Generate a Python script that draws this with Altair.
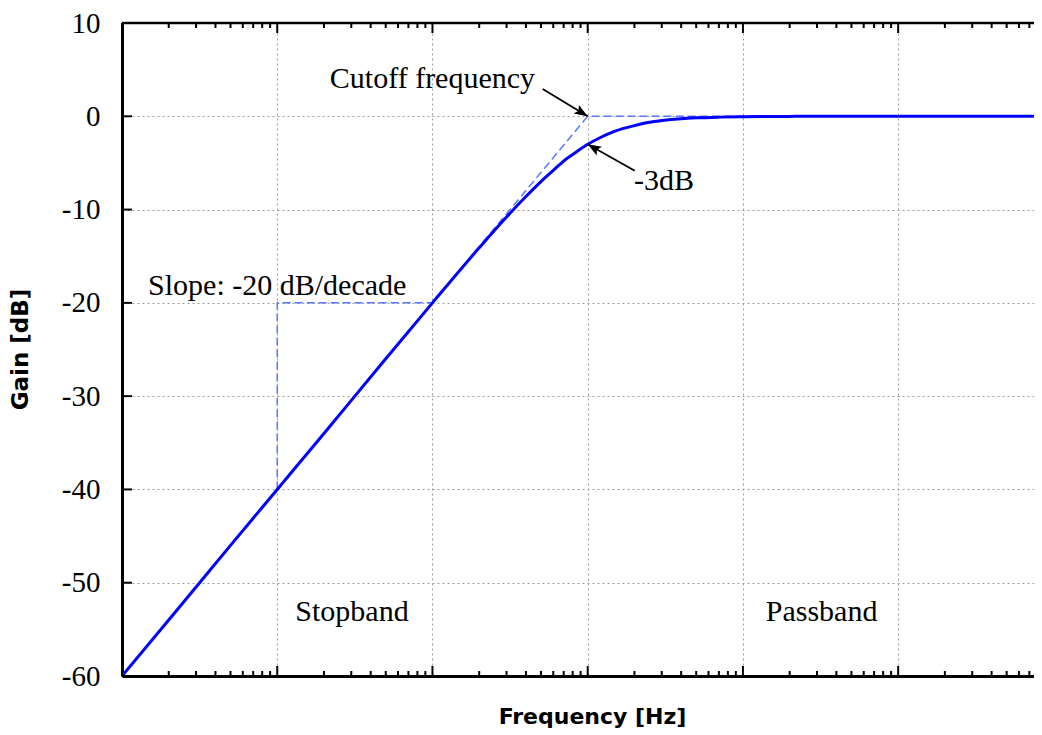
import altair as alt
import pandas as pd

# ---- values ----
freq = [0.001, 0.002, 0.005, 0.01, 0.02, 0.05, 0.1, 0.2, 0.3, 0.4, 0.5, 0.6, 0.7, 0.8,
        1.0, 1.2, 1.5, 2.0, 2.5, 3.0, 4.0, 5.0, 7.0, 10.0, 20.0, 50.0, 100.0, 1000.0]
gain = [-60, -54, -46, -40, -34, -26, -20, -14.1, -10.8, -8.6, -7.0, -5.8, -4.8, -4.1,
        -3.0, -2.3, -1.6, -1.0, -0.64, -0.46, -0.26, -0.17, -0.09, -0.04, -0.01, 0, 0, 0]

asym_f = [0.001, 1.0, 1000.0]
asym_g = [-60, 0, 0]

slope_f = [0.01, 0.01, 0.1]
slope_g = [-40, -20, -20]

label_text = ["Cutoff frequency", "-3dB", "Slope: -20 dB/decade", "Stopband", "Passband"]
label_f = [0.1, 3.1, 0.01, 0.0303, 32.1]
label_g = [3.07, -7.88, -19.2, -54.08, -54.08]

arrow_tail_f = [0.513, 2.01]
arrow_tail_g = [2.93, -5.84]
arrow_head_f = [1.0, 1.0]
arrow_head_g = [0.0, -3.0]
arrow_angle = [121.5, 300.6]

major_x = [0.001, 0.01, 0.1, 1, 10, 100]
minor_mult = [2, 3, 4, 5, 6, 7, 8, 9]
y_ticks = [10, 0, -10, -20, -30, -40, -50, -60]

# ---- layout ----
W, H = 912, 653
XMAX = 750
SERIF = "Liberation Serif"
SANS = "DejaVu Sans"

minor_x = [m * d for d in major_x for m in minor_mult if m * d < XMAX]

xs = alt.Scale(type="log", domain=[0.001, XMAX])
ys = alt.Scale(domain=[-60, 10])

x_axis = alt.Axis(values=major_x, labels=False, ticks=False, grid=True,
                  gridColor="#9a9a9a", gridDash=[2, 3], gridWidth=1,
                  domain=True, domainColor="black", domainWidth=3,
                  title="Frequency [Hz]", titleFont=SANS, titleFontSize=22,
                  titleFontWeight="bold", titleColor="black",
                  titleX=470, titleY=40, titleAlign="center", titleBaseline="middle")
y_axis = alt.Axis(values=y_ticks, ticks=False, labelPadding=22, labelFont=SERIF,
                  labelFontSize=29, labelColor="black", labelBaseline="middle",
                  labelExpr="'' + datum.value",
                  labelFlush=False, labelOverlap=False, grid=True,
                  gridColor="#9a9a9a", gridDash=[2, 3], gridWidth=1,
                  domain=True, domainColor="black", domainWidth=3,
                  title="Gain [dB]", titleFont=SANS, titleFontSize=23,
                  titleFontWeight="bold", titleColor="black", titleAngle=270,
                  titleX=-102, titleY=326, titleAlign="center", titleBaseline="middle")


def X(field="f"):
    return alt.X(f"{field}:Q", scale=xs, axis=x_axis)


def Y(field="g"):
    return alt.Y(f"{field}:Q", scale=ys, axis=y_axis)


curve_df = pd.DataFrame({"f": freq, "g": gain})
asym_df = pd.DataFrame({"f": asym_f, "g": asym_g})
slope_df = pd.DataFrame({"f": slope_f, "g": slope_g, "i": list(range(len(slope_f)))})
label_df = pd.DataFrame({"f": label_f, "g": label_g, "t": label_text})
arrow_df = pd.DataFrame({"f": arrow_tail_f, "g": arrow_tail_g,
                         "f2": arrow_head_f, "g2": arrow_head_g})
head_df = pd.DataFrame({"f": arrow_head_f, "g": arrow_head_g, "a": arrow_angle})
majx_df = pd.DataFrame({"f": major_x})
minx_df = pd.DataFrame({"f": minor_x})
yt_df = pd.DataFrame({"g": y_ticks})
top_df = pd.DataFrame({"g": [10]})

DASH_BLUE = "#5a78ff"

asym = alt.Chart(asym_df).mark_line(color=DASH_BLUE, strokeWidth=1.5,
                                    strokeDash=[8, 4], clip=True).encode(x=X(), y=Y())
slope = alt.Chart(slope_df).mark_line(color=DASH_BLUE, strokeWidth=1.5,
                                      strokeDash=[8, 4], clip=True).encode(
    x=X(), y=Y(), order="i:Q")
curve = alt.Chart(curve_df).mark_line(color="#0000ff", strokeWidth=3,
                                      interpolate="monotone", clip=True).encode(x=X(), y=Y())
labels = alt.Chart(label_df).mark_text(font=SERIF, fontSize=30, color="black",
                                       align="center", baseline="alphabetic").encode(
    x=X(), y=Y(), text="t:N")
arrows = alt.Chart(arrow_df).mark_rule(color="black", strokeWidth=1.8).encode(
    x=X(), y=Y(), x2="f2:Q", y2="g2:Q")
heads = alt.Chart(head_df).mark_point(
    shape="M0,0L-0.38,1L0,0.8L0.38,1Z", filled=True, color="black",
    size=720, opacity=1).encode(x=X(), y=Y(), angle=alt.Angle("a:Q", scale=None))

tick_bot_major = alt.Chart(majx_df).mark_rule(color="black", strokeWidth=2).encode(
    x=X(), y=alt.value(H), y2=alt.value(H - 10))
tick_bot_minor = alt.Chart(minx_df).mark_rule(color="black", strokeWidth=2).encode(
    x=X(), y=alt.value(H), y2=alt.value(H - 5))
tick_top_major = alt.Chart(majx_df).mark_rule(color="black", strokeWidth=2).encode(
    x=X(), y=alt.value(0), y2=alt.value(10))
tick_top_minor = alt.Chart(minx_df).mark_rule(color="black", strokeWidth=2).encode(
    x=X(), y=alt.value(0), y2=alt.value(5))
tick_y = alt.Chart(yt_df).mark_rule(color="black", strokeWidth=2).encode(
    y=Y(), x=alt.value(0), x2=alt.value(10))
top_border = alt.Chart(top_df).mark_rule(color="black", strokeWidth=2.5).encode(y=Y())

chart = alt.layer(
    asym, slope, curve, labels, arrows, heads,
    tick_bot_major, tick_bot_minor, tick_top_major, tick_top_minor, tick_y, top_border
).properties(
    width=W, height=H,
    padding={"left": 114, "top": 15, "right": 0, "bottom": 58},
    autosize=alt.AutoSizeParams(type="none"),
    background="white",
).configure_view(stroke=None)

chart.save("out.html", embed_options={"renderer": "svg", "actions": False})
